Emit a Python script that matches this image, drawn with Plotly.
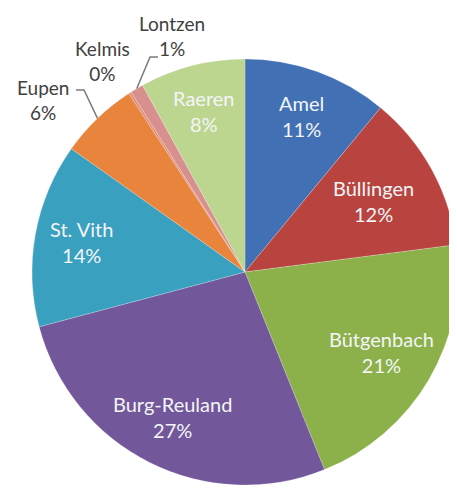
import math
import plotly.graph_objects as go

labels = ["Amel", "Büllingen", "Bütgenbach", "Burg-Reuland", "St. Vith",
          "Eupen", "Kelmis", "Lontzen", "Raeren"]
values = [11, 12, 21, 27, 14, 6, 0.2, 1, 8]
colors = ["#4270b5", "#b8433f", "#8cb04a", "#72579a", "#3aa0bf",
          "#e8843c", "#e0907a", "#d8908f", "#bcd58f"]

# label placement (style): radial fraction for inside labels, None = outside
label_r = [0.78, 0.69, 0.74, 0.76, 0.78, None, None, None, 0.78]
# outside label centres (window px) and leader stubs
outside_pos = {"Eupen": (43, 100), "Kelmis": (102, 61), "Lontzen": (172, 36)}
leader_stub = {"Eupen": ((76, 90), (84, 90)), "Lontzen": ((158, 57), (150, 57))}

W, H = 457, 491
OFF = 8  # page body margin
CX, CY, R = 245, 272, 213  # intended pie centre / radius in window px

def to_paper(wx, wy):
    return (wx - OFF) / W, 1 - (wy - OFF) / H

x0, y1 = to_paper(CX - R, CY - R)
x1, y0 = to_paper(CX + R, CY + R)

fig = go.Figure(go.Pie(
    labels=labels, values=values, sort=False, direction="clockwise", rotation=0,
    marker=dict(colors=colors, line=dict(color="rgba(255,255,255,0.35)", width=0.6)),
    textinfo="none",
    domain=dict(x=[x0, min(x1, 1.0)], y=[y0, y1]),
    showlegend=False, hoverinfo="label+percent",
))

total = sum(values)
cum = 0.0
annotations = []
shapes = []
for lab, v, lr in zip(labels, values, label_r):
    mid = (cum + v / 2) / total
    cum += v
    theta = 2 * math.pi * mid
    pct = f"{round(100 * v / total)}%"
    txt = f"{lab}<br>{pct}"
    if lr is not None:
        wx = CX + lr * R * math.sin(theta)
        wy = CY - lr * R * math.cos(theta)
        px, py = to_paper(wx, wy)
        annotations.append(dict(x=px, y=py, xref="paper", yref="paper", text=txt,
                                showarrow=False, xanchor="center", yanchor="middle",
                                font=dict(color="#f3f5f7", size=20, family="Lato")))
    else:
        wx, wy = outside_pos[lab]
        px, py = to_paper(wx, wy)
        annotations.append(dict(x=px, y=py, xref="paper", yref="paper", text=txt,
                                showarrow=False, xanchor="center", yanchor="middle",
                                font=dict(color="#404040", size=19, family="Lato")))
        if lab in leader_stub:
            (sx0, sy0), (sx1, sy1) = leader_stub[lab]
            ex = CX + R * math.sin(theta)
            ey = CY - R * math.cos(theta)
            pts = [to_paper(sx0, sy0), to_paper(sx1, sy1), to_paper(ex, ey)]
            path = "M {} {} L {} {} L {} {}".format(
                pts[0][0], pts[0][1], pts[1][0], pts[1][1], pts[2][0], pts[2][1])
            shapes.append(dict(type="path", path=path, xref="paper", yref="paper",
                               line=dict(color="#7a7a7a", width=1.5)))

fig.update_layout(width=W, height=H, margin=dict(l=0, r=0, t=0, b=0),
                  paper_bgcolor="white", plot_bgcolor="white",
                  annotations=annotations, shapes=shapes)
fig.write_html("out.html")
